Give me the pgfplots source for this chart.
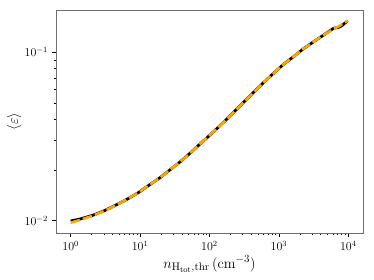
\documentclass[border=0pt]{standalone}
\usepackage{pgfplots}
\pgfplotsset{compat=1.18}
\definecolor{mplorange}{RGB}{255,165,0}
\definecolor{spine}{RGB}{110,110,110}
\begin{document}
\fontsize{12}{14}\selectfont
\begin{tikzpicture}
\begin{axis}[
  at={(56pt,47pt)}, anchor=south west,
  scale only axis, width=307pt, height=223pt,
  xmode=log, ymode=log,
  xmin=0.614, xmax=16300, ymin=0.00845, ymax=0.178,
  xtick={1,10,100,1000,10000},
  ytick={0.01,0.1},
  tick align=outside, tick pos=left,
  axis line style={spine},
  major tick length=4pt, minor tick length=2.3pt,
  every tick/.style={black, line width=0.5pt},
  tick label style={font=\fontsize{12}{14}\selectfont},
  xlabel={$n_{\mathrm{H_{tot},thr}}\,(\mathrm{cm^{-3}})$},
  ylabel={$\langle\varepsilon\rangle$},
  label style={font=\fontsize{15.5}{18}\selectfont},
  xlabel style={yshift=3pt},
  ylabel style={yshift=-5pt},
]
\addplot[black, line width=2.8pt, line join=round] coordinates {
(1.000,0.00996) (1.361,0.01023) (2.075,0.01076) (3.055,0.01146) (4.498,0.01239)
(6.622,0.01346) (9.44,0.01467) (13.58,0.01629) (19.36,0.01799) (27.61,0.02018)
(38.02,0.02240) (52.36,0.02513) (71.45,0.02827) (98.4,0.03184) (134.0,0.03583)
(182.8,0.04053) (248.9,0.04608) (339.6,0.05236) (462.4,0.05945) (631,0.06724)
(859,0.07569) (1170,0.08485) (1614,0.09382) (2249,0.1047) (3199,0.1157)
(4613,0.1279) (6081,0.1383) (6600,0.1395) (7180,0.1403) (8017,0.1433) (9772,0.1535)
};
\addplot[mplorange, line width=2.6pt, dash pattern=on 9.5pt off 3.2pt] coordinates {
(1.000,0.00972) (1.361,0.01010) (2.075,0.01070) (3.055,0.01143) (4.498,0.01237)
(6.622,0.01346) (9.44,0.01467) (13.58,0.01629) (19.36,0.01799) (27.61,0.02018)
(38.02,0.02240) (52.36,0.02513) (71.45,0.02827) (98.4,0.03184) (134.0,0.03583)
(182.8,0.04053) (248.9,0.04608) (339.6,0.05236) (462.4,0.05945) (631,0.06724)
(859,0.07569) (1170,0.08485) (1614,0.09382) (2249,0.1047) (3199,0.1157)
(4613,0.1279) (6081,0.1370) (7180,0.1420) (8017,0.1460) (9772,0.1535)
};
\end{axis}
\pgfresetboundingbox
\path (0,0) rectangle (374pt,280pt);
\end{tikzpicture}
\end{document}
